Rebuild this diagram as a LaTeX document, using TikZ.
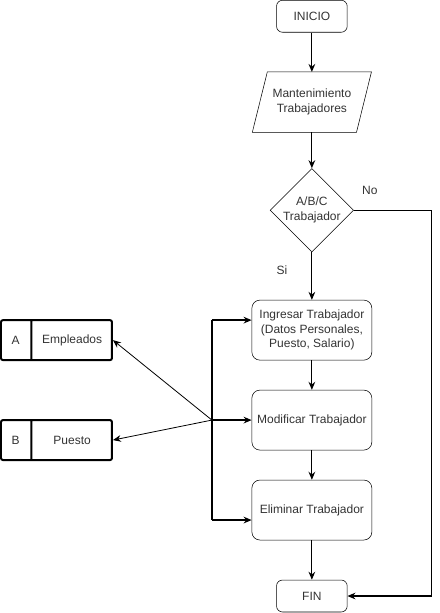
\documentclass[tikz,border=0pt]{standalone}
\usepackage{fontspec}
\setmainfont{Liberation Sans}
\usetikzlibrary{shapes.geometric,shapes.multipart,arrows.meta,positioning,calc}

\begin{document}
\begin{tikzpicture}[x=0.75pt, y=-0.75pt,
	font=\fontsize{9}{11}\selectfont,
	term/.style={rectangle, draw, rounded corners=4.5pt, minimum width=53pt, minimum height=24pt, text=black!80},
	proc/.style={rectangle, draw, rounded corners=6pt, minimum width=90pt, minimum height=45pt, align=center, text=black!80},
	datos/.style={rectangle, minimum width=89pt, minimum height=45pt, inner xsep=0pt, align=center, text=black!80},
	decision/.style={diamond, draw, aspect=1, inner sep=0pt, minimum width=60pt, minimum height=60pt, align=center, text=black!80},
	tabla/.style={rectangle split, rectangle split horizontal, rectangle split parts=2, draw, line width=1.5pt, rounded corners=1.5pt, inner sep=0pt, minimum height=30pt, text=black!80},
	flow/.style={-{Stealth[length=6pt, width=5pt]}, line width=0.9pt},
	bus/.style={line width=1.8pt},
	busarrow/.style={-{Stealth[length=6pt, width=5pt]}, line width=1.8pt},
	ref/.style={-{Stealth[length=6pt, width=5pt]}, line width=0.6pt}]
	% flujo principal
	\draw node[term] at (312,16) (ini) {INICIO};
	\draw node[datos] [below of=ini, node distance=64.5pt] (mant) {Mantenimiento\\Trabajadores};
	\draw ($(mant.north west)+(15,0)$) -- (mant.north east) -- ($(mant.south east)+(-15,0)$) -- (mant.south west) -- cycle;
	\draw node[decision] [below of=mant, node distance=81pt] (abc) {A/B/C\\Trabajador};
	\draw node[proc] [below of=abc, node distance=90pt] (ing) {Ingresar Trabajador\\(Datos Personales,\\Puesto, Salario)};
	\draw node[proc] [below of=ing, node distance=67.5pt] (mod) {Modificar Trabajador};
	\draw node[proc] [below of=mod, node distance=67.5pt] (eli) {Eliminar Trabajador};
	\draw node[term] [below of=eli, node distance=64.5pt] (fin) {FIN};
	% tablas
	\draw node[tabla] at (56.5,340) (emp) {\makebox[22pt]{A}\nodepart{two}\makebox[59.75pt]{Empleados}};
	\draw node[tabla] [below of=emp, node distance=75pt] (pue) {\makebox[22pt]{B}\nodepart{two}\makebox[59.75pt]{Puesto}};
	% etiquetas
	\draw node[text=black!80] at (370,190) (no) {No};
	\draw node[text=black!80] at (282,270) (si) {Si};
	\coordinate (noc) at (432,210);
	\coordinate (bus) at (212,420);
	\coordinate (busA) at (212,320);
	\coordinate (busC) at (212,520);
	\draw[flow] (ini) -- (mant);
	\draw[flow] (mant) -- (abc);
	\draw[flow] (abc) -- (ing);
	\draw[flow] (ing) -- (mod);
	\draw[flow] (mod) -- (eli);
	\draw[flow] (eli) -- (fin);
	\draw[flow] (abc.east) -- (noc) |- (fin.east);
	\draw[bus] (busA) -- (busC);
	\draw[busarrow] (busA) -- (busA -| ing.west);
	\draw[busarrow] (bus) -- (bus -| mod.west);
	\draw[busarrow] (busC) -- (busC -| eli.west);
	\draw[ref] (bus) -- (emp.east);
	\draw[ref] (bus) -- (pue.east);
	\useasboundingbox (0,0) rectangle (440,613);
\end{tikzpicture}
\end{document}
